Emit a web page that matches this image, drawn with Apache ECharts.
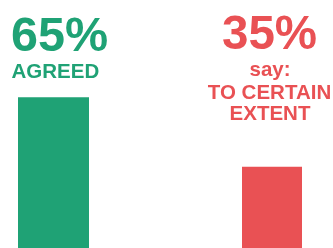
<!DOCTYPE html>
<html>
<head>
<meta charset="utf-8">
<script src="https://cdn.jsdelivr.net/npm/echarts@6/dist/echarts.min.js"></script>
<style>
  html, body { margin: 0; padding: 0; background: #fff; }
  #chart { width: 333px; height: 248px; }
</style>
</head>
<body>
<div id="chart"></div>
<script>
// answers and their share (percent)
var categories = ['Agreed', 'To certain extent'];
var values = [65, 35];
var bigLabels = ['65%', '35%'];
var greenLines = ['AGREED'];
var redLines = ['say:', 'TO CERTAIN', 'EXTENT'];

var green = '#1fa275';
var red = '#e95154';
var font = '"Liberation Sans", Arial, sans-serif';

var myChart = echarts.init(document.getElementById('chart'));

//each bar in its own grid so widths can differ
function axisPair(i) {
  return {
    x: { type: 'category', gridIndex: i, data: [categories[i]], show: false },
    y: { type: 'value', gridIndex: i, min: 0, max: 100, show: false }
  };
}
var a0 = axisPair(0), a1 = axisPair(1);

function txt(str, x, y, size, color, align) {
  return {
    type: 'text', x: x, y: y, silent: true,
    style: {
      text: str, fill: color, align: align, verticalAlign: 'middle',
      font: 'bold ' + size + 'px ' + font
    }
  };
}

myChart.setOption({
  animation: false,
  grid: [
    { left: 18, width: 71, top: 16, bottom: 0 },
    { left: 242, width: 60, top: 16, bottom: 0 }
  ],
  xAxis: [a0.x, a1.x],
  yAxis: [a0.y, a1.y],
  series: [
    { type: 'bar', xAxisIndex: 0, yAxisIndex: 0, barWidth: '100%',
      data: [values[0]], itemStyle: { color: green } },
    { type: 'bar', xAxisIndex: 1, yAxisIndex: 1, barWidth: '100%',
      data: [values[1]], itemStyle: { color: red } }
  ],
  graphic: [
    txt(bigLabels[0], 11, 38, 48.5, green, 'left'),
    txt(greenLines[0], 11.5, 72, 20.5, green, 'left'),
    txt(bigLabels[1], 269.5, 36, 47.5, red, 'center'),
    txt(redLines[0], 270, 70, 20.5, red, 'center'),
    txt(redLines[1], 269.5, 93, 20.5, red, 'center'),
    txt(redLines[2], 270, 114, 20.5, red, 'center')
  ]
});
</script>
</body>
</html>
